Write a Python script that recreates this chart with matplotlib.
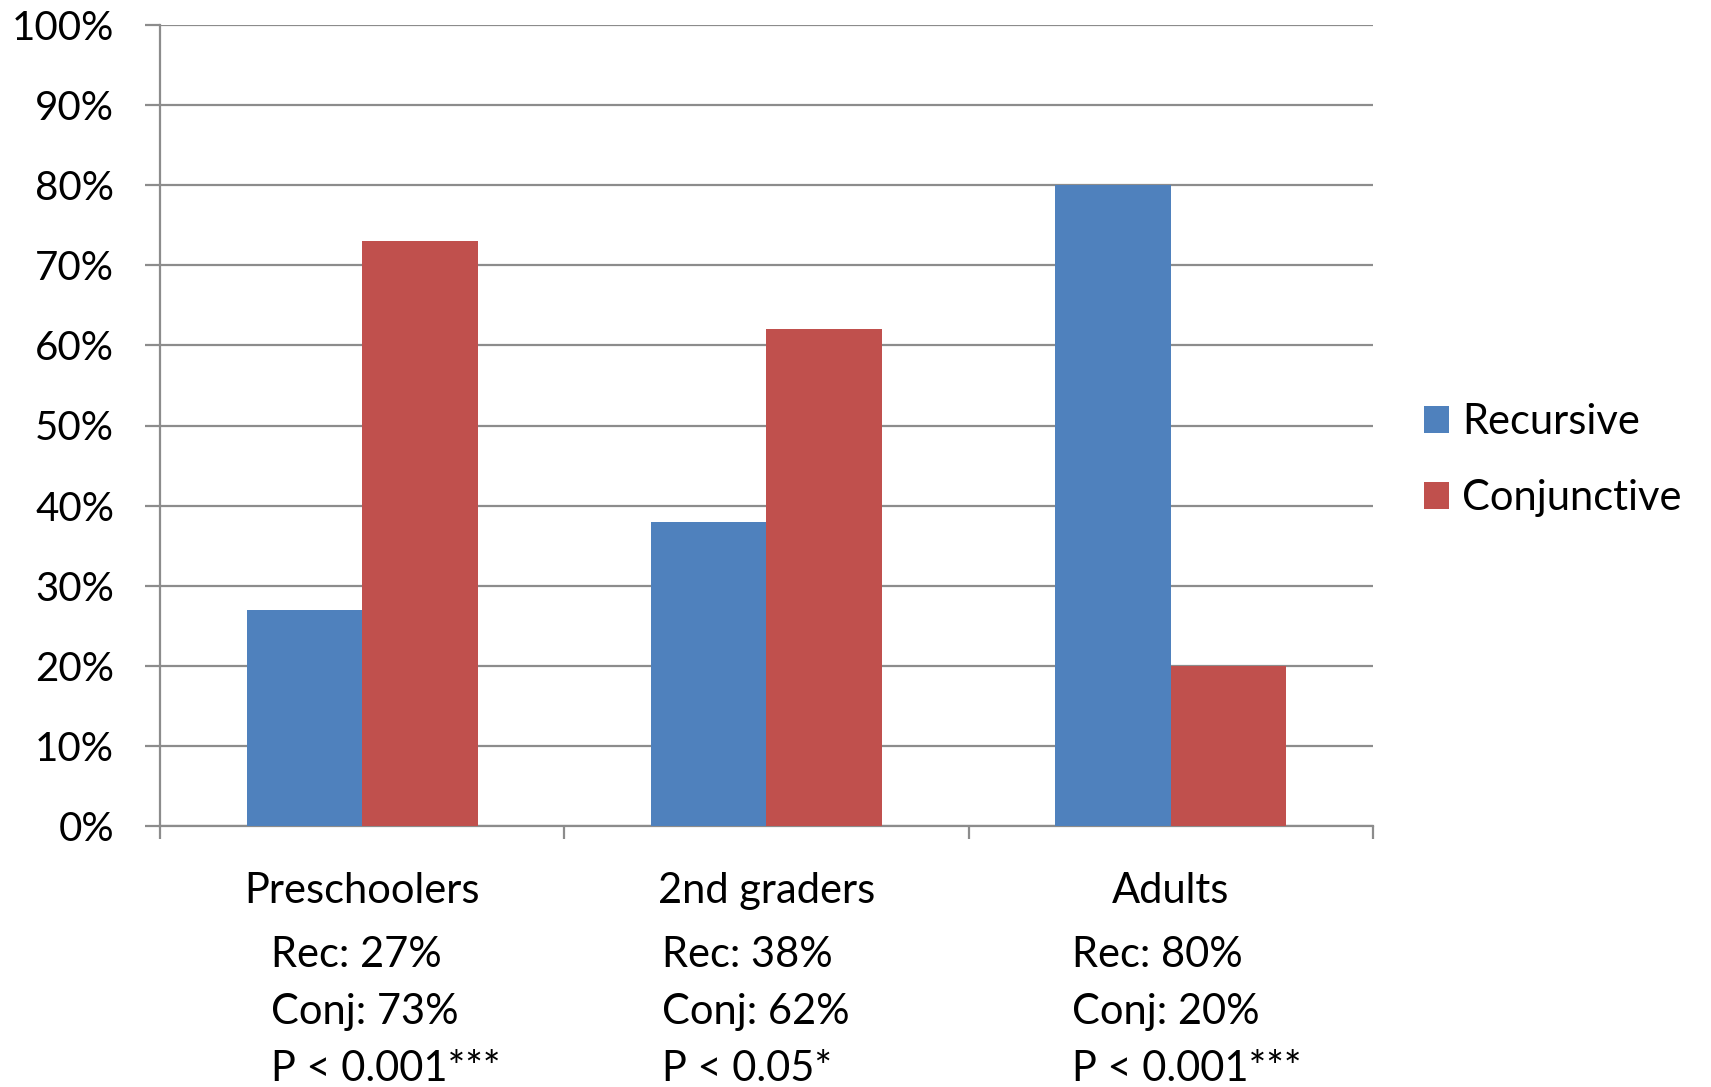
import numpy as np
import matplotlib.pyplot as plt
from matplotlib.transforms import offset_copy
from matplotlib.ticker import PercentFormatter

plt.rcParams['font.family'] = ['Lato', 'DejaVu Sans']

groups = ["Preschoolers", "2nd graders", "Adults"]
recursive = [27, 38, 80]
conjunctive = [73, 62, 20]
p_labels = ["P < 0.001***", "P < 0.05*", "P < 0.001***"]
stat_offsets = [-91, -104, -99]   # left edge of the stats block, px from group centre

blue = "#4F81BD"
red = "#C0504D"
grey = "#8C8C8C"
fs = 30

fig = plt.figure(figsize=(17.11, 10.87), dpi=100)
ax = fig.add_axes([160/1711, 1 - 826/1087, (1373-160)/1711, (826-25)/1087])

x = np.arange(len(groups))
w = 1 / 3.5
ax.bar(x - w/2, recursive, w, color=blue, label="Recursive", zorder=3)
ax.bar(x + w/2, conjunctive, w, color=red, label="Conjunctive", zorder=3)

ax.set_xlim(-0.5, len(groups) - 0.5)
ax.set_ylim(0, 100)
ax.set_yticks(np.arange(0, 101, 10))
ax.yaxis.set_major_formatter(PercentFormatter(decimals=0))
ax.yaxis.grid(True, color=grey, linewidth=1.6, zorder=0)
ax.tick_params(axis='y', length=11, width=1.6, color=grey, pad=22, labelsize=29)

ax.set_xticks(np.arange(-0.5, len(groups)))
ax.set_xticklabels([])
ax.tick_params(axis='x', length=9.5, width=1.6, color=grey)

for s in ['top', 'right']:
    ax.spines[s].set_visible(False)
for s in ['left', 'bottom']:
    ax.spines[s].set_color(grey)
    ax.spines[s].set_linewidth(1.6)

# group names and the stats underneath
base = ax.get_xaxis_transform()
for i, g in enumerate(groups):
    t = offset_copy(base, fig=fig, x=0, y=-65, units='dots')
    ax.text(i, 0, g, transform=t, ha='center', va='center', fontsize=fs)
    lines = [f"Rec: {recursive[i]}%", f"Conj: {conjunctive[i]}%", p_labels[i]]
    for j, line in enumerate(lines):
        t = offset_copy(base, fig=fig, x=stat_offsets[i], y=-129 - 57*j, units='dots')
        ax.text(i, 0, line, transform=t, ha='left', va='center', fontsize=fs)

leg = fig.legend(loc='center left', bbox_to_anchor=(1386/1711, 1 - 460/1087),
                 frameon=False, fontsize=fs, handlelength=0.62, handleheight=0.62,
                 handletextpad=0.3, labelspacing=0.9)

fig.savefig("out.png", dpi=100)
